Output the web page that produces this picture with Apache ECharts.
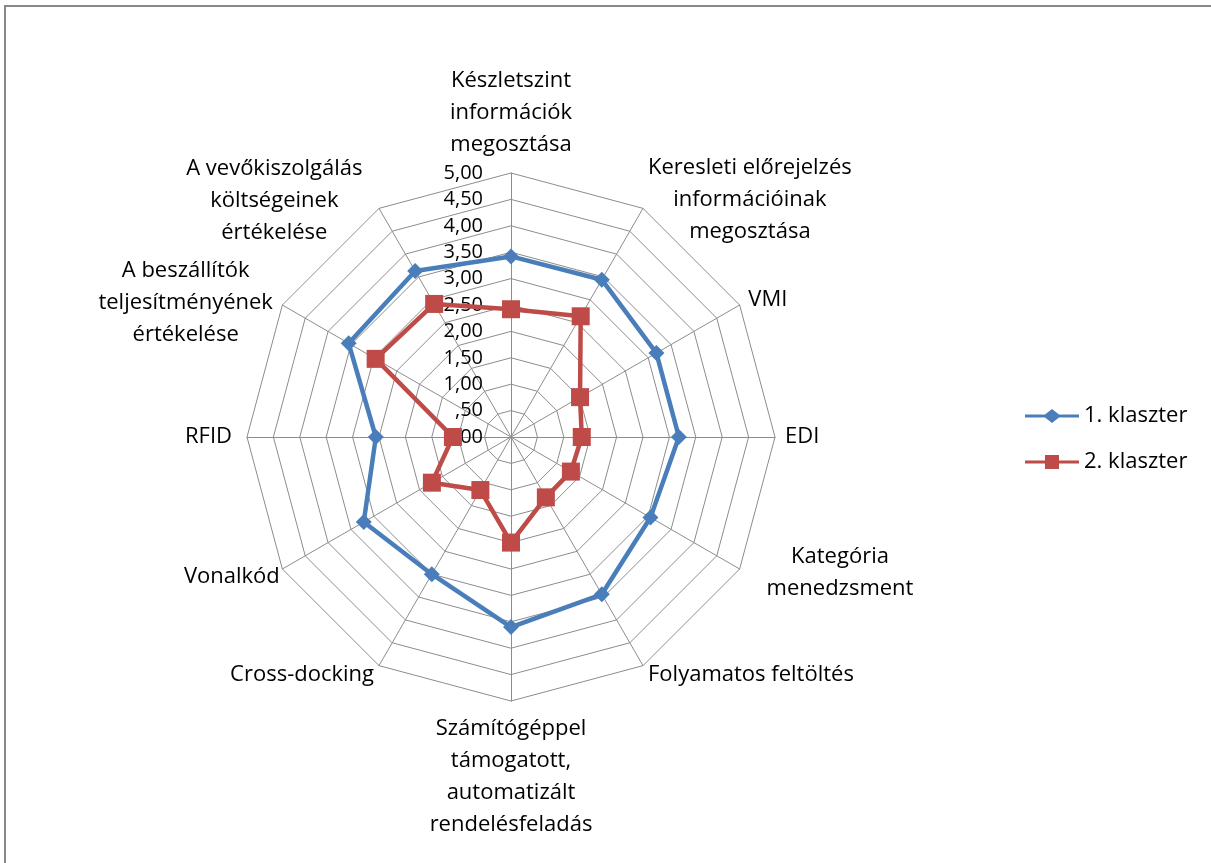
<!DOCTYPE html>
<html>
<head>
<meta charset="utf-8">
<title>Klaszterek</title>
<script src="https://cdn.jsdelivr.net/npm/echarts@6/dist/echarts.min.js"></script>
<style>
  html, body { margin: 0; padding: 0; background: #fff; overflow: hidden; }
  #frame {
    position: absolute; left: 4px; top: 5px; width: 1400px; height: 1000px;
    border-left: 2px solid #888; border-top: 2px solid #888;
  }
  #chart { position: absolute; left: 0; top: 0; width: 1211px; height: 863px; }
</style>
</head>
<body>
<div id="frame"></div>
<div id="chart"></div>
<script>
// clockwise from the top, as in the picture
const categories = [
  'Készletszint\ninformációk\nmegosztása',
  'Keresleti előrejelzés\ninformációinak\nmegosztása',
  'VMI',
  'EDI',
  'Kategória\nmenedzsment',
  'Folyamatos feltöltés',
  'Számítógéppel\ntámogatott,\nautomatizált\nrendelésfeladás',
  'Cross-docking',
  'Vonalkód',
  'RFID',
  'A beszállítók\nteljesítményének\nértékelése',
  'A vevőkiszolgálás\nköltségeinek\nértékelése'
];
const cluster1 = [3.42, 3.44, 3.18, 3.18, 3.05, 3.44, 3.60, 3.00, 3.22, 2.56, 3.55, 3.63];
const cluster2 = [2.42, 2.64, 1.51, 1.34, 1.31, 1.32, 2.00, 1.16, 1.73, 1.10, 2.96, 2.91];
const seriesNames = ['1. klaszter', '2. klaszter'];
const tickLabels = [',00', ',50', '1,00', '1,50', '2,00', '2,50', '3,00', '3,50', '4,00', '4,50', '5,00'];
const maxValue = 5;

// label placement tweaks, same order as categories
const nameGaps = [12, 10, 10, 10, 8, 10, 12, 10, 3, 15, 4, 9];
const namePads = [
  0, 0, 0, 0,
  [0, 0, 0, 20],
  0, 0, 0,
  [13, 0, 0, 0],
  0,
  [0, 6, 0, 0],
  [0, 12, 0, 0]
];

const FONT = 'Open Sans';
const NAME_SIZE = 22;
const COLORS = {
  c1: '#4A7EBB',
  c2: '#BE4B48',
  grid: '#8c8c8c',
  text: '#000000'
};

// ECharts lays radar indicators out counter-clockwise, so flip the order
const ccw = (arr) => [arr[0]].concat(arr.slice(1).reverse());

const indicators = ccw(categories.map((name, i) => ({
  name: name,
  max: maxValue,
  min: 0,
  nameGap: nameGaps[i],
  nameTextStyle: { padding: namePads[i] },
  axisLabel: { show: i === 0 }
})));

const chart = echarts.init(document.getElementById('chart'), null, { renderer: 'canvas' });

chart.setOption({
  animation: false,
  legend: {
    orient: 'vertical',
    left: 1020,
    top: 400,
    itemWidth: 54,
    itemHeight: 14,
    itemGap: 24,
    textStyle: { fontFamily: FONT, fontSize: NAME_SIZE, color: COLORS.text },
    data: [
      { name: seriesNames[0], icon: 'path://M0,5.5H20L27,0L34,5.5H54V8.5H34L27,14L20,8.5H0Z' },
      { name: seriesNames[1], icon: 'path://M0,5.5H20V0H34V5.5H54V8.5H34V14H20V8.5H0Z' }
    ]
  },
  radar: {
    center: [511, 437],
    radius: 264,
    startAngle: 90,
    shape: 'polygon',
    splitNumber: 10,
    indicator: indicators,
    axisName: {
      color: COLORS.text,
      fontFamily: FONT,
      fontSize: NAME_SIZE,
      formatter: (name) => name.split('\n').map(l => '{c|' + l + '}').join('\n'),
      rich: {
        c: { align: 'center', fontFamily: FONT, fontSize: NAME_SIZE, lineHeight: 32, color: COLORS.text }
      }
    },
    axisLine: { lineStyle: { color: COLORS.grid, width: 1 } },
    splitLine: { lineStyle: { color: COLORS.grid, width: 1 } },
    splitArea: { show: false },
    axisTick: { show: false },
    axisLabel: {
      show: false,
      fontFamily: FONT,
      fontSize: 20,
      color: COLORS.text,
      margin: 28,
      formatter: (v) => tickLabels[Math.round(v * 2)]
    }
  },
  series: [{
    type: 'radar',
    data: [
      {
        name: seriesNames[0],
        value: ccw(cluster1),
        symbol: 'diamond',
        symbolSize: 16,
        itemStyle: { color: COLORS.c1 },
        lineStyle: { color: COLORS.c1, width: 4.5 }
      },
      {
        name: seriesNames[1],
        value: ccw(cluster2),
        symbol: 'rect',
        symbolSize: 18,
        itemStyle: { color: COLORS.c2 },
        lineStyle: { color: COLORS.c2, width: 4.5 }
      }
    ]
  }]
});
</script>
</body>
</html>
